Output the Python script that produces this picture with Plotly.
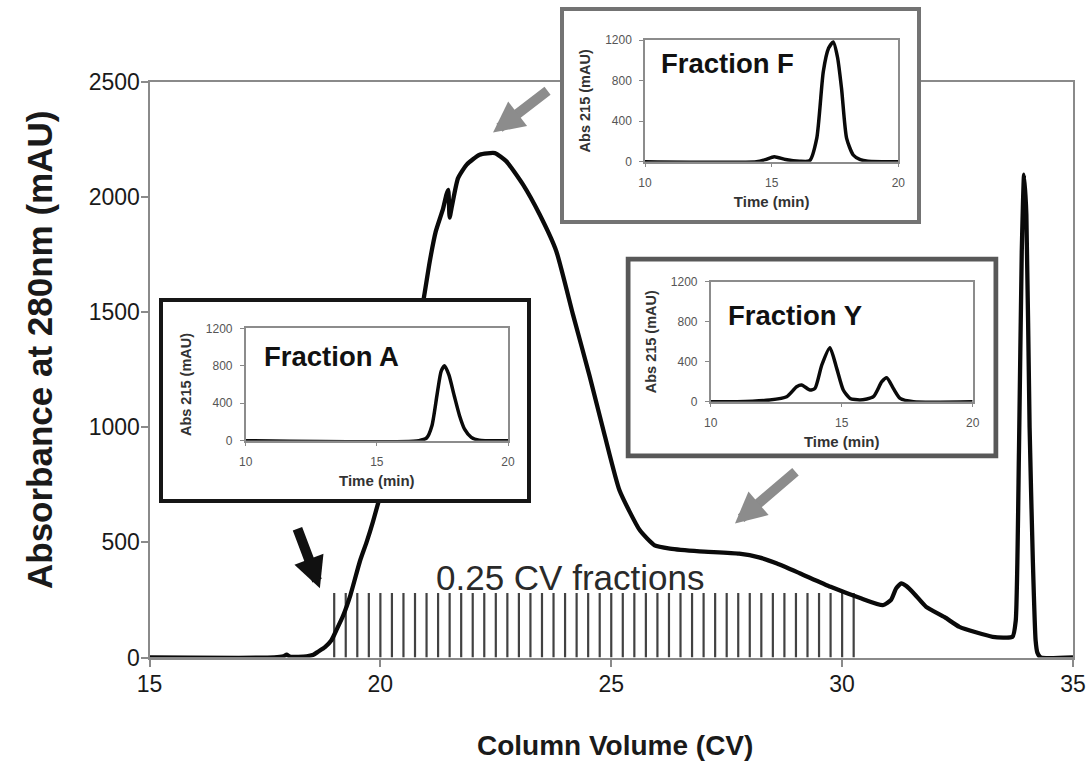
import plotly.graph_objects as go

W, H = 1092, 763
FONT = "Liberation Sans, Arial, sans-serif"

# ---- main chromatogram: column volume (CV) vs absorbance at 280 nm (mAU)
cv = [15.0, 17.7, 17.9, 17.97, 18.05, 18.4, 18.55, 18.65, 18.8, 18.94, 19.05, 19.19,
      19.35, 19.56, 19.7, 19.84, 20.1, 20.4, 20.7, 20.93, 21.07, 21.2, 21.36, 21.43,
      21.47, 21.5, 21.55, 21.68, 21.87, 22.15, 22.48, 22.73, 23.09, 23.45, 23.81, 24.17,
      24.53, 24.86, 25.18, 25.62, 25.94, 26.27, 26.91, 27.77, 28.2, 28.59, 29.08, 29.75,
      30.42, 30.88, 31.06, 31.17, 31.28, 31.39, 31.57, 31.82, 32.22, 32.54, 33.26, 33.69,
      33.76, 33.83, 33.89, 33.94, 33.99, 34.06, 34.13, 34.19, 34.23, 34.3, 35.0]
mau = [0, 0, 5, 12, 3, 5, 12, 25, 45, 75, 120, 180,
       270, 420, 500, 590, 780, 1030, 1320, 1548, 1720, 1850, 1950, 2010,
       2030, 1910, 1960, 2080, 2140, 2183, 2190, 2154, 2053, 1923, 1764, 1490,
       1223, 963, 725, 552, 487, 473, 461, 451, 435, 408, 366, 307,
       256, 227, 250, 300, 322, 310, 275, 220, 175, 133, 90, 90,
       160, 900, 1760, 2096, 1923, 1000, 422, 75, 20, 0, 0]

# collected fractions (start of each 0.25 CV fraction)
fraction_cv = [19.0, 19.25, 19.5, 19.75, 20.0, 20.25, 20.5, 20.75, 21.0, 21.25, 21.5, 21.75,
               22.0, 22.25, 22.5, 22.75, 23.0, 23.25, 23.5, 23.75, 24.0, 24.25, 24.5, 24.75,
               25.0, 25.25, 25.5, 25.75, 26.0, 26.25, 26.5, 26.75, 27.0, 27.25, 27.5, 27.75,
               28.0, 28.25, 28.5, 28.75, 29.0, 29.25, 29.5, 29.75, 30.0, 30.25]
fraction_marker_height = 280

main_x_ticks = [15, 20, 25, 30, 35]
main_y_ticks = [0, 500, 1000, 1500, 2000, 2500]

# ---- analytical traces of selected fractions: time (min) vs Abs 215 (mAU)
a_time = [10, 16.6, 16.9, 17.1, 17.3, 17.45, 17.58, 17.75, 17.95, 18.15, 18.35, 18.6, 18.9, 20]
a_abs = [0, 0, 30, 160, 500, 740, 800, 700, 480, 270, 120, 35, 5, 0]

f_time = [10, 14.4, 14.75, 15.1, 15.55, 16.1, 16.5, 16.78, 17.04, 17.25, 17.43, 17.6,
          17.76, 17.96, 18.22, 18.5, 18.8, 20]
f_abs = [0, 0, 20, 50, 22, 5, 10, 230, 890, 1120, 1180, 1030, 720, 230, 66, 20, 5, 0]

y_time = [10, 11.0, 12.26, 12.9, 13.28, 13.47, 13.79, 13.98, 14.24, 14.55, 14.81, 15.06,
          15.32, 15.7, 16.21, 16.53, 16.72, 16.97, 17.23, 17.74, 20]
y_abs = [0, 0, 17, 50, 150, 167, 117, 133, 367, 540, 333, 117,
         33, 17, 50, 200, 240, 133, 33, 0, 0]

inset_x_ticks = [10, 15, 20]
inset_y_ticks = [0, 400, 800, 1200]


def fx(p):
    return p / W


def fy(p):
    return (H - p) / H


fig = go.Figure()

# fraction markers
fx_pts, fy_pts = [], []
for c in fraction_cv:
    fx_pts += [c, c, None]
    fy_pts += [0, fraction_marker_height, None]
fig.add_trace(go.Scatter(x=fx_pts, y=fy_pts, mode="lines",
                         line=dict(color="#424242", width=2.2), hoverinfo="skip"))

# chromatogram
fig.add_trace(go.Scatter(x=cv, y=mau, mode="lines",
                         line=dict(color="#0a0a0a", width=4.3, shape="spline", smoothing=0.5)))

# inset frames: (left, top, right, bottom) in px, line colour, line width
frames = [
    (161, 300, 529, 501, "#161616", 4),
    (562, 9, 919, 222, "#737373", 4),
    (628, 259, 996, 456, "#585858", 5),
]
# inset plot areas: (left, top, right, bottom) in px
insets = [
    (245.7, 328.3, 508.0, 440.7, a_time, a_abs, "Fraction A", 10.62, 894),
    (645.0, 40.0, 898.3, 161.7, f_time, f_abs, "Fraction F", 10.55, 973),
    (710.7, 281.7, 972.7, 401.7, y_time, y_abs, "Fraction Y", 10.58, 867),
]

layout = dict(
    width=W, height=H, autosize=False,
    margin=dict(l=0, r=0, t=0, b=0, pad=0, autoexpand=False),
    paper_bgcolor="white", plot_bgcolor="white", showlegend=False,
    font=dict(family=FONT, color="#1a1a1a"),
    xaxis=dict(domain=[fx(149.5), fx(1073)], range=[15, 35], tickvals=main_x_ticks,
               ticks="outside", ticklen=7, tickwidth=2, tickcolor="#8a8a8a",
               showline=True, linecolor="#8a8a8a", linewidth=2, mirror=True,
               showgrid=False, zeroline=False, tickfont=dict(size=23, color="#1a1a1a"),
               ticklabelstandoff=-2, automargin=False),
    yaxis=dict(domain=[fy(657.5), fy(81.7)], range=[0, 2500], tickvals=main_y_ticks,
               ticks="outside", ticklen=7, tickwidth=2, tickcolor="#8a8a8a",
               showline=True, linecolor="#8a8a8a", linewidth=2, mirror=True,
               showgrid=False, zeroline=False, tickfont=dict(size=23, color="#1a1a1a"),
               ticklabelstandoff=-4, automargin=False),
)

shapes = []
annotations = [
    # axis titles
    dict(x=fx(615), y=fy(745), xref="paper", yref="paper", text="<b>Column Volume (CV)</b>",
         showarrow=False, xanchor="center", yanchor="middle",
         font=dict(size=28, color="#1a1a1a", family=FONT)),
    dict(x=fx(39), y=fy(350), xref="paper", yref="paper", text="<b>Absorbance at 280nm (mAU)</b>",
         showarrow=False, xanchor="center", yanchor="middle", textangle=-90,
         font=dict(size=35, color="#1a1a1a", family=FONT)),
]

# frame subplots (axes 2-4) are drawn above the chromatogram
for i, (l, t, r, b, col, lw) in enumerate(frames):
    n = i + 2
    fig.add_trace(go.Scatter(x=[None], y=[None], xaxis=f"x{n}", yaxis=f"y{n}", hoverinfo="skip"))
    layout[f"xaxis{n}"] = dict(domain=[fx(l - lw / 2), fx(r + lw / 2)], range=[0, 1],
                               visible=False, anchor=f"y{n}", fixedrange=True, automargin=False)
    layout[f"yaxis{n}"] = dict(domain=[fy(b + lw / 2), fy(t - lw / 2)], range=[0, 1],
                               visible=False, anchor=f"x{n}", fixedrange=True, automargin=False)
    bw, bh = r - l + lw, b - t + lw
    shapes.append(dict(type="rect", xref=f"x{n}", yref=f"y{n}", layer="below",
                       x0=(lw / 2) / bw, x1=1 - (lw / 2) / bw,
                       y0=(lw / 2) / bh, y1=1 - (lw / 2) / bh,
                       fillcolor="white", line=dict(color=col, width=lw)))

# inset chromatograms (axes 5-7)
for i, (l, t, r, b, tx, ty, label, lx, ly) in enumerate(insets):
    n = i + 5
    fig.add_trace(go.Scatter(x=tx, y=ty, mode="lines", xaxis=f"x{n}", yaxis=f"y{n}",
                             line=dict(color="#0a0a0a", width=3.5, shape="spline", smoothing=0.6)))
    common = dict(ticks="outside", ticklen=4, tickwidth=1, tickcolor="#888",
                  showline=True, linecolor="#8c8c8c", linewidth=1.5, mirror=True,
                  showgrid=False, zeroline=False, fixedrange=True, automargin=False,
                  tickfont=dict(size=12, color="#555"))
    layout[f"xaxis{n}"] = dict(domain=[fx(l), fx(r)], range=[10, 20], tickvals=inset_x_ticks,
                               anchor=f"y{n}", ticklabelstandoff=5,
                               title=dict(text="<b>Time (min)</b>", font=dict(size=15, color="#333"),
                                          standoff=8), **common)
    layout[f"yaxis{n}"] = dict(domain=[fy(b), fy(t)], range=[0, 1200], tickvals=inset_y_ticks,
                               anchor=f"x{n}", ticklabelstandoff=5,
                               title=dict(text="<b>Abs 215 (mAU)</b>", font=dict(size=14.5, color="#333"),
                                          standoff=11), **common)
    annotations.append(dict(x=lx, y=ly, xref=f"x{n}", yref=f"y{n}", text=f"<b>{label}</b>",
                            showarrow=False, xanchor="left", yanchor="middle",
                            font=dict(size=27.5, color="#111", family=FONT)))

# label over the fraction markers
annotations.append(dict(x=24.1, y=348, xref="x", yref="y",
                        text="0.25 CV fractions", showarrow=False, yanchor="middle",
                        font=dict(size=35, color="#2a2a2a", family=FONT)))

# pointer arrows (tip in data units, tail offset in px)
arrows = [
    (18.69, 301, -23, -61, "#111111"),
    (22.44, 2279, 56, -43, "#8c8c8c"),
    (27.68, 582, 62, -53, "#8c8c8c"),
]
for x, y, ax, ay, col in arrows:
    annotations.append(dict(x=x, y=y, xref="x", yref="y", ax=ax, ay=ay, text="",
                            showarrow=True, arrowhead=2, arrowsize=0.62, arrowwidth=10,
                            arrowcolor=col, standoff=0))

layout["shapes"] = shapes
layout["annotations"] = annotations
fig.update_layout(**layout)

fig.write_html("out.html")
